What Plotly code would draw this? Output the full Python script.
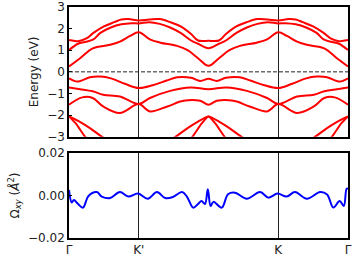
import plotly.graph_objects as go

# ---- k-path ----
k_ticks = [0, 1, 3, 4]
k_labels = ["Γ", "K'", "K", "Γ"]

# ---- bands (energy in eV) ----
c3_k = [0, 0.13, 0.25, 0.35, 0.5, 0.65, 0.75, 0.85, 1.0, 1.15, 1.3, 1.45, 1.6, 1.75, 1.85, 2.0,
        2.15, 2.25, 2.4, 2.55, 2.7, 2.85, 3.0, 3.15, 3.25, 3.35, 3.5, 3.65, 3.75, 3.87, 4.0]
c3_e = [1.47, 1.42, 1.55, 1.8, 2.1, 2.3, 2.42, 2.44, 2.38, 2.42, 2.44, 2.3, 2.1, 1.75, 1.45, 1.44,
        1.45, 1.75, 2.1, 2.3, 2.44, 2.42, 2.38, 2.44, 2.42, 2.3, 2.1, 1.8, 1.55, 1.42, 1.47]

c2_k = [0, 0.13, 0.23, 0.35, 0.45, 0.6, 0.75, 0.9, 1.0, 1.15, 1.3, 1.45, 1.6, 1.75, 1.85, 2.0,
        2.15, 2.25, 2.4, 2.55, 2.7, 2.85, 3.0, 3.1, 3.25, 3.4, 3.55, 3.65, 3.77, 3.87, 4.0]
c2_e = [1.01, 1.3, 1.38, 1.5, 1.8, 2.05, 2.2, 2.25, 2.24, 2.3, 2.22, 2.05, 1.8, 1.45, 1.3, 1.09,
        1.3, 1.45, 1.8, 2.05, 2.22, 2.3, 2.24, 2.25, 2.2, 2.05, 1.8, 1.5, 1.38, 1.3, 1.01]

c1_k = [0, 0.16, 0.34, 0.59, 0.73, 0.875, 1.0, 1.16, 1.31, 1.55, 1.7, 1.85, 2.0,
        2.15, 2.3, 2.45, 2.69, 2.84, 3.0, 3.125, 3.27, 3.41, 3.66, 3.84, 4.0]
c1_e = [0.25, 0.63, 1.09, 1.25, 1.4, 1.66, 1.83, 1.5, 1.35, 1.2, 1.0, 0.63, 0.28,
        0.63, 1.0, 1.2, 1.35, 1.5, 1.83, 1.66, 1.4, 1.25, 1.09, 0.63, 0.25]

v1_k = [0, 0.12, 0.3, 0.45, 0.6, 0.8, 1.0, 1.2, 1.4, 1.55, 1.75, 1.88, 2.0,
        2.12, 2.25, 2.45, 2.6, 2.8, 3.0, 3.2, 3.4, 3.55, 3.7, 3.88, 4.0]
v1_e = [-0.3, -0.45, -0.25, -0.22, -0.3, -0.55, -0.75, -0.62, -0.4, -0.25, -0.27, -0.42, -0.32,
        -0.42, -0.27, -0.25, -0.4, -0.62, -0.75, -0.55, -0.3, -0.22, -0.25, -0.45, -0.3]

v2_k = [0, 0.16, 0.34, 0.49, 0.73, 1.0, 1.16, 1.45, 1.74, 2.0,
        2.26, 2.55, 2.84, 3.0, 3.27, 3.51, 3.66, 3.84, 4.0]
v2_e = [-0.72, -0.8, -0.9, -1.06, -1.14, -1.49, -1.21, -0.88, -0.72, -0.8,
        -0.72, -0.88, -1.21, -1.49, -1.14, -1.06, -0.9, -0.8, -0.72]

v3_k = [0, 0.19, 0.34, 0.49, 0.73, 1.0, 1.16, 1.41, 1.64, 1.88, 2.0,
        2.12, 2.36, 2.59, 2.84, 3.0, 3.27, 3.51, 3.66, 3.81, 4.0]
v3_e = [-1.52, -1.18, -1.21, -1.6, -1.9, -1.49, -1.83, -1.6, -1.34, -1.34, -1.52,
        -1.34, -1.34, -1.6, -1.83, -1.49, -1.9, -1.6, -1.21, -1.18, -1.52]

l1_k = [0, 0.1, 0.23, 0.5, 1.5, 1.77, 1.9, 2.0, 2.1, 2.23, 2.5, 3.5, 3.77, 3.9, 4.0]
l1_e = [-2.06, -2.4, -3.0, -4.0, -4.0, -3.0, -2.4, -2.06, -2.4, -3.0, -4.0, -4.0, -3.0, -2.4, -2.06]

l2_k = [0, 0.15, 0.3, 0.47, 0.8, 1.2, 1.53, 1.7, 1.85, 2.0, 2.15, 2.3, 2.47, 2.8, 3.2, 3.53, 3.7, 3.85, 4.0]
l2_e = [-2.06, -2.3, -2.6, -3.0, -3.6, -3.6, -3.0, -2.6, -2.3, -2.06, -2.3, -2.6, -3.0, -3.6, -3.6, -3.0, -2.6, -2.3, -2.06]

bands = [(c3_k, c3_e), (c2_k, c2_e), (c1_k, c1_e), (v1_k, v1_e), (v2_k, v2_e), (v3_k, v3_e)]
lower_bands = [(l1_k, l1_e), (l2_k, l2_e)]

# ---- Berry curvature (Å^2) ----
berry_k = [0.0, 0.04, 0.07, 0.13, 0.2, 0.28, 0.4, 0.47, 0.59, 0.73, 0.85, 0.99, 1.13, 1.26, 1.38, 1.49,
           1.62, 1.69, 1.78, 1.85, 1.9, 1.95, 1.99, 2.03, 2.07, 2.19, 2.28, 2.38, 2.55, 2.74, 2.86,
           2.99, 3.12, 3.24, 3.41, 3.6, 3.7, 3.79, 3.88, 3.94, 3.98, 4.0]
berry_v = [0.0026, -0.0033, -0.0021, -0.004, -0.0057, -0.0002, 0.0016, -0.0005, -0.0012, 0.0016, -0.0005,
           0.0009, -0.0015, 0.0016, -0.0012, -0.0007, 0.0016, -0.0005, -0.0057, -0.004, -0.0026, -0.004,
           0.0029, -0.0049, -0.003, -0.0057, 0.0006, 0.0013, -0.0015, 0.0016, -0.001, 0.0009, -0.0005,
           0.0016, -0.0015, 0.0016, 0.0005, -0.0057, -0.0026, -0.0049, 0.0032, 0.0032]

fig = go.Figure()

for kk, ee in bands:
    fig.add_trace(go.Scatter(x=kk, y=ee, mode="lines", line=dict(color="#ff0000", width=2, shape="spline", smoothing=1.0),
                             xaxis="x", yaxis="y", hoverinfo="skip", showlegend=False))
for kk, ee in lower_bands:
    fig.add_trace(go.Scatter(x=kk, y=ee, mode="lines", line=dict(color="#ff0000", width=2, shape="spline", smoothing=0.6),
                             xaxis="x", yaxis="y", hoverinfo="skip", showlegend=False))

fig.add_trace(go.Scatter(x=berry_k, y=berry_v, mode="lines", line=dict(color="#0000ff", width=2, shape="spline", smoothing=1.0),
                         xaxis="x2", yaxis="y2", hoverinfo="skip", showlegend=False))

# Fermi level
fig.add_shape(type="line", xref="x", yref="y", x0=0, x1=4, y0=0, y1=0,
              line=dict(color="#222222", width=1, dash="4px,2px"))

font = dict(family="DejaVu Sans", size=12, color="#222222")
common_x = dict(range=[0, 4], tickvals=k_ticks, ticktext=k_labels, showgrid=True, gridcolor="#222222",
                gridwidth=1, zeroline=False, showline=True, linecolor="black", linewidth=1.5, mirror=True,
                ticks="", tickfont=font, automargin=False)

fig.update_layout(
    width=355, height=262,
    margin=dict(l=69, r=7, t=7, b=24, autoexpand=False),
    paper_bgcolor="white", plot_bgcolor="white",
    font=font,
    xaxis=dict(common_x, domain=[0, 1], anchor="y", showticklabels=False),
    yaxis=dict(range=[-3, 3], domain=[0.4385, 1.0], tickvals=[-3, -2, -1, 0, 1, 2, 3],
               ticktext=["−3", "−2", "−1", "0", "1", "2", "3"], automargin=False,
               showgrid=False, zeroline=False, showline=True, linecolor="black", linewidth=1.5, mirror=True,
               ticks="inside", ticklen=3, tickcolor="black", tickfont=font,
               title=dict(text="Energy (eV)", font=font, standoff=6)),
    xaxis2=dict(common_x, domain=[0, 1], anchor="y2", showticklabels=True),
    yaxis2=dict(range=[-0.02, 0.02], domain=[0, 0.368], tickvals=[-0.02, 0, 0.02],
                ticktext=["−0.02", "0.00", "0.02"], automargin=False,
                showgrid=False, zeroline=False, showline=True, linecolor="black", linewidth=1.5, mirror=True,
                ticks="inside", ticklen=3, tickcolor="black", tickfont=font,
                title=dict(text="Ω<sub><i>xy</i></sub> (<i>Å</i><sup>2</sup>)", font=font, standoff=6)),
)

fig.write_html("out.html", config={"displayModeBar": False},
               post_script="document.body.style.margin='0';document.body.style.overflow='hidden';")
